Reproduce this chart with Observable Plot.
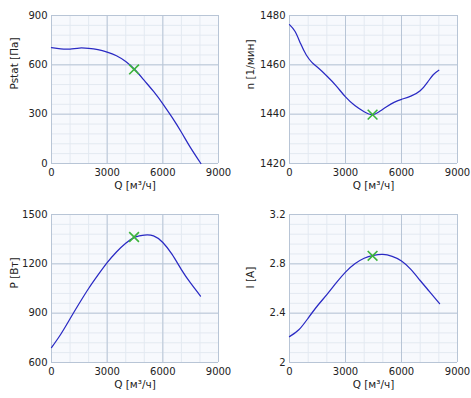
<!DOCTYPE html>
<html>
<head>
<meta charset="utf-8">
<script src="https://cdn.jsdelivr.net/npm/d3@7"></script>
<script src="https://cdn.jsdelivr.net/npm/@observablehq/plot@0.6"></script>
<style>
  body { margin: 0; background: #fff; }
  #wrap { position: relative; width: 471px; height: 398px; }
  .panel { position: absolute; }
</style>
</head>
<body>
<div id="wrap"></div>
<script>
// Shared x axis
const xTicks = [0, 3000, 6000, 9000];
const xLabel = "Q [м³/ч]";

// Panel 1: static pressure
const q1 = [0,500,1000,1500,2000,2500,3000,3500,4000,4500,5000,5500,6000,6500,7000,7500,8050];
const pstat = [705,697,696,702,700,692,677,655,620,570,505,438,363,280,190,95,0];
const pstatTicks = [0, 300, 600, 900];

// Panel 2: speed
const q2 = [0,300,600,900,1200,1500,2000,2500,3000,3500,4000,4430,4800,5200,5600,6000,6500,7000,7400,7700,8000];
const nval = [1476.3,1473.5,1468.5,1464,1461,1459,1455.5,1451.5,1447,1443.5,1441,1439.8,1441,1443,1444.8,1446,1447.3,1449.5,1453,1456,1457.8];
const nTicks = [1420, 1440, 1460, 1480];

// Panel 3: power
const q3 = [0,500,1000,1500,2000,2500,3000,3500,4000,4500,5000,5500,6000,6500,7000,7500,8030];
const power = [691,772,866,960,1050,1131,1207,1272,1325,1362,1375,1370,1330,1257,1165,1082,1004];
const powerTicks = [600, 900, 1200, 1500];

// Panel 4: current
const q4 = [0,500,1000,1500,2000,2500,3000,3500,4000,4500,5000,5500,6000,6500,7000,7500,8040];
const current = [2.21,2.265,2.36,2.46,2.55,2.645,2.733,2.80,2.845,2.868,2.876,2.86,2.823,2.755,2.665,2.575,2.477];
const currentTicks = [2, 2.4, 2.8, 3.2];

// Operating point
const opQ = 4450;
const opValues = [572, 1439.8, 1363, 2.865];

const panels = [
  {q: q1, v: pstat, ticks: pstatTicks, label: "Pstat [Па]", op: opValues[0], left: 0, top: 0, ml: 51, mr: 17},
  {q: q2, v: nval, ticks: nTicks, label: "n [1/мин]", op: opValues[1], left: 235, top: 0, ml: 54, mr: 14},
  {q: q3, v: power, ticks: powerTicks, label: "P [Вт]", op: opValues[2], left: 0, top: 199, ml: 51, mr: 17},
  {q: q4, v: current, ticks: currentTicks, label: "I [A]", op: opValues[3], left: 235, top: 199, ml: 54, mr: 14}
];

const wrap = document.getElementById("wrap");
const font = "DejaVu Sans, sans-serif";

for (const p of panels) {
  const data = p.q.map((q, i) => ({q, v: p.v[i]}));
  const ymin = p.ticks[0], ymax = p.ticks[p.ticks.length - 1];
  const step = p.ticks[1] - p.ticks[0];
  const yMinor = d3.range(0, (p.ticks.length - 1) * 5 + 1).map(i => ymin + i * step / 5);
  const xMinor = d3.range(0, 10).map(i => i * 1000);
  const plot = Plot.plot({
    width: p.left === 0 ? 235 : 236,
    height: 199,
    marginLeft: p.ml,
    marginRight: p.mr,
    marginTop: 15,
    marginBottom: 36,
    style: {fontFamily: font, fontSize: "10px", color: "#222", background: "transparent"},
    x: {domain: [0, 9000], ticks: xTicks, tickSize: 0, tickPadding: 5, tickFormat: d => String(d), label: null},
    y: {domain: [ymin, ymax], ticks: p.ticks, tickSize: 0, tickPadding: 4, tickFormat: d => String(d), label: null},
    marks: [
      Plot.frame({fill: "#f7f9fd", stroke: null}),
      Plot.gridX(xMinor, {stroke: "#e3e9f1", strokeOpacity: 1, strokeWidth: 1}),
      Plot.gridY(yMinor, {stroke: "#e3e9f1", strokeOpacity: 1, strokeWidth: 1}),
      Plot.gridX(xTicks, {stroke: "#b8c5d6", strokeOpacity: 1, strokeWidth: 1}),
      Plot.gridY(p.ticks, {stroke: "#b8c5d6", strokeOpacity: 1, strokeWidth: 1}),
      Plot.line(data, {x: "q", y: "v", curve: "natural", stroke: "#2a2ac4", strokeWidth: 1.25}),
      Plot.dot([{q: opQ, v: p.op}], {x: "q", y: "v", symbol: "times", r: 4.5, stroke: "#3cb43c", strokeWidth: 1.6}),
      Plot.text([xLabel], {frameAnchor: "bottom", lineAnchor: "middle", dy: 22, fontSize: 10.5, fill: "#222"}),
      Plot.text([p.label], {frameAnchor: "left", rotate: -90, dx: p.ml === 51 ? -37 : -39, fontSize: 10.5, fill: "#222"})
    ]
  });
  const div = document.createElement("div");
  div.className = "panel";
  div.style.left = p.left + "px";
  div.style.top = p.top + "px";
  div.appendChild(plot);
  wrap.appendChild(div);
}
</script>
</body>
</html>
